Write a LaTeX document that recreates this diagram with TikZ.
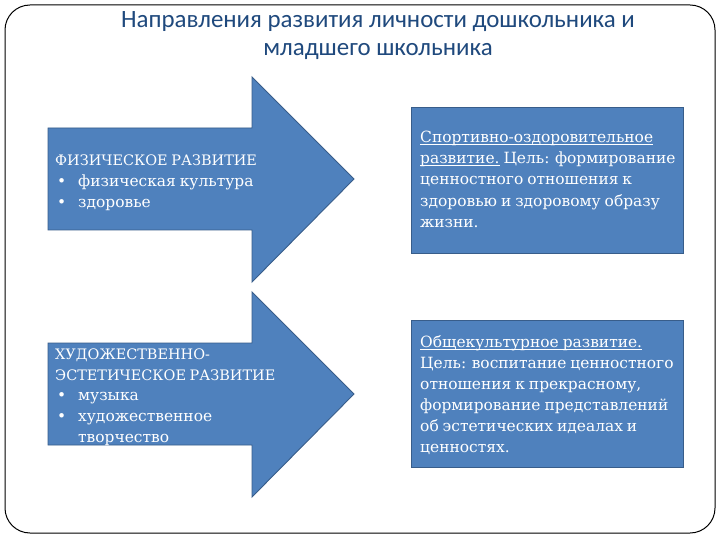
\documentclass[tikz,border=0pt]{standalone}
\usepackage{fontspec}
\setmainfont{DejaVu Serif}[WordSpace=0.8]
\newfontfamily\titlefont{Carlito}
\definecolor{boxfill}{HTML}{4F81BD}
\definecolor{boxline}{HTML}{385D8A}
\definecolor{titleblue}{HTML}{1F497D}
\newcommand{\bitem}[1]{\makebox[23bp][l]{\hspace{2bp}•}#1}
\newcommand{\capsline}[1]{{\fontsize{14.5}{21.4}\selectfont #1}}
\newsavebox{\ulbox}
\newcommand{\ulin}[1]{\sbox{\ulbox}{#1}\rlap{\rule[-2.4bp]{\wd\ulbox}{0.75bp}}\usebox{\ulbox}}
\begin{document}
\begin{tikzpicture}[x=1bp,y=-1bp,
  shapefill/.style={fill=boxfill,draw=boxline,line width=0.9bp},
  bodytext/.style={text=white,anchor=north west,inner sep=0pt,align=left,
    font=\fontsize{15.5}{21.4}\selectfont},
  titletext/.style={text=titleblue,anchor=north,inner sep=0pt,align=center,
    font=\titlefont\fontsize{25}{28}\selectfont}]
\useasboundingbox (0,0) rectangle (720,540);
\fill[white] (0,0) rectangle (720,540);
\draw[black,line width=1bp,rounded corners=25bp] (5,5) rectangle (715,533);
\node[titletext] (title) at (378,7.8) {\strut Направления развития личности дошкольника и\\младшего школьника};
% arrows
\draw[shapefill] (48,128) -- (252,128) -- (252,77) -- (354,179) -- (252,282) -- (252,230) -- (48,230) -- cycle;
\draw[shapefill] (48,343) -- (252,343) -- (252,292) -- (354,394) -- (252,497) -- (252,445) -- (48,445) -- cycle;
% boxes
\draw[shapefill] (411,107) rectangle (683,253);
\draw[shapefill] (411,320) rectangle (683,467);
\node[bodytext] (phys) at (55,150.1) {\strut\capsline{ФИЗИЧЕСКОЕ РАЗВИТИЕ}\\\bitem{физическая культура}\\\bitem{здоровье}};
\node[bodytext,font=\fontsize{15.5}{21}\selectfont] (art) at (55,344.3) {\strut\capsline{ХУДОЖЕСТВЕННО-}\\\capsline{ЭСТЕТИЧЕСКОЕ РАЗВИТИЕ}\\\bitem{музыка}\\\bitem{художественное}\\\hspace*{23bp}творчество};
\node[bodytext] (sport) at (420,127.1) {\strut\ulin{Спортивно-оздоровительное}\\\ulin{развитие.} Цель: формирование\\ценностного отношения к\\здоровью и здоровому образу\\жизни.};
\node[bodytext,font=\fontsize{15.5}{21.2}\selectfont] (cult) at (420,332.2) {\strut\ulin{Общекультурное развитие.}\\Цель: воспитание ценностного\\отношения к прекрасному,\\формирование представлений\\об эстетических идеалах и\\ценностях.};
\end{tikzpicture}
\end{document}
